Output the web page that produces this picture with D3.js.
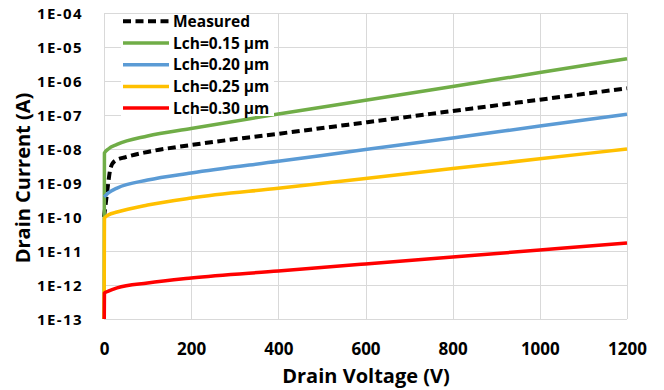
<!DOCTYPE html>
<html>
<head>
<meta charset="utf-8">
<script src="https://cdn.jsdelivr.net/npm/d3@7"></script>
<style>
  html, body { margin: 0; padding: 0; background: #fff; }
  svg { display: block; font-family: "Open Sans", "DejaVu Sans", sans-serif; font-weight: bold; }
</style>
</head>
<body>
<svg id="chart" width="664" height="390"></svg>
<script>
// Drain voltage sample points (V) for the simulated channel lengths
const voltage = [0, 1, 10, 30, 100, 200, 400, 600, 800, 1000, 1200];
// Simulated drain current (A) per channel length
const lch015 = [1e-14, 7.6e-9, 1.0e-8, 1.36e-8, 2.41e-8, 4.0e-8, 1.07e-7, 2.70e-7, 6.9e-7, 1.77e-6, 4.53e-6];
const lch020 = [3.9e-10, 4.0e-10, 5.1e-10, 7.1e-10, 1.22e-9, 1.97e-9, 4.35e-9, 9.6e-9, 2.12e-8, 4.72e-8, 1.05e-7];
const lch025 = [1e-14, 9.3e-11, 1.15e-10, 1.40e-10, 2.25e-10, 3.62e-10, 7.0e-10, 1.36e-9, 2.65e-9, 5.15e-9, 1.0e-8];
const lch030 = [1e-14, 5.8e-13, 6.6e-13, 8.2e-13, 1.15e-12, 1.61e-12, 2.58e-12, 4.15e-12, 6.67e-12, 1.07e-11, 1.72e-11];
// Measured drain current
const measuredVoltage = [0, 5, 10, 15, 25, 50, 100, 200, 400, 600, 800, 1000, 1200];
const measured = [1.0e-10, 3.2e-10, 1.07e-9, 2.75e-9, 4.5e-9, 5.8e-9, 8.2e-9, 1.31e-8, 2.8e-8, 6.05e-8, 1.31e-7, 2.82e-7, 6.1e-7];

const seriesNames = ["Measured", "Lch=0.15 \u00b5m", "Lch=0.20 \u00b5m", "Lch=0.25 \u00b5m", "Lch=0.30 \u00b5m"];
const seriesColors = ["#000000", "#70AD47", "#5B9BD5", "#FFC000", "#FF0000"];

const xTicks = [0, 200, 400, 600, 800, 1000, 1200];
const yTicks = [1e-13, 1e-12, 1e-11, 1e-10, 1e-9, 1e-8, 1e-7, 1e-6, 1e-5, 1e-4];
const yTickLabels = ["1E-13", "1E-12", "1E-11", "1E-10", "1E-09", "1E-08", "1E-07", "1E-06", "1E-05", "1E-04"];

const plot = { left: 104, right: 627, top: 13, bottom: 319 };

const svg = d3.select("#chart");

const x = d3.scaleLinear().domain([0, 1200]).range([plot.left, plot.right]);
const y = d3.scaleLog().domain([1e-13, 1e-4]).range([plot.bottom, plot.top]);

// Gridlines
const grid = svg.append("g").attr("stroke", "#D9D9D9").attr("stroke-width", 1);
grid.selectAll("line.h").data(yTicks).join("line")
  .attr("x1", plot.left).attr("x2", plot.right)
  .attr("y1", d => Math.round(y(d)) + 0.5).attr("y2", d => Math.round(y(d)) + 0.5);
grid.selectAll("line.v").data(xTicks).join("line")
  .attr("y1", plot.top).attr("y2", plot.bottom)
  .attr("x1", d => Math.round(x(d)) + 0.5).attr("x2", d => Math.round(x(d)) + 0.5);

// Axes (labels only, Excel style)
const xAxis = svg.append("g")
  .attr("transform", `translate(0,${plot.bottom + 24})`)
  .call(d3.axisBottom(x).tickValues(xTicks).tickSize(0).tickFormat(d3.format("d")));
xAxis.select(".domain").remove();
xAxis.selectAll("text").attr("font-size", 17).attr("font-family", "Open Sans").attr("font-weight", "bold").attr("fill", "#000").attr("dy", "0.71em").attr("y", 0);

const yAxis = svg.append("g")
  .attr("transform", `translate(${plot.left - 21},0)`)
  .call(d3.axisLeft(y).tickValues(yTicks).tickSize(0).tickFormat((d, i) => yTickLabels[i]));
yAxis.select(".domain").remove();
yAxis.selectAll("text").attr("font-size", 15).attr("font-family", "Open Sans").attr("font-weight", "bold")
  .attr("letter-spacing", 1.4).attr("fill", "#000").attr("x", 0).attr("dy", "0.35em");

// Axis titles
svg.append("text")
  .attr("x", 366).attr("y", 383)
  .attr("text-anchor", "middle").attr("font-size", 20).attr("fill", "#000")
  .text("Drain Voltage (V)");
svg.append("text")
  .attr("transform", "translate(30,178) rotate(-90)")
  .attr("text-anchor", "middle").attr("font-size", 20).attr("fill", "#000")
  .text("Drain Current (A)");

// Clip for the curves
svg.append("defs").append("clipPath").attr("id", "plotClip")
  .append("rect").attr("x", plot.left - 4).attr("y", plot.top)
  .attr("width", plot.right - plot.left + 8).attr("height", plot.bottom - plot.top);

const line = d3.line()
  .x(d => x(d[0]))
  .y(d => y(d[1]))
  .curve(d3.curveMonotoneX);

const series = [
  { v: measuredVoltage, i: measured, dash: "8,4.5", w: 4 },
  { v: voltage, i: lch015, dash: null, w: 3.5 },
  { v: voltage, i: lch020, dash: null, w: 3.5 },
  { v: voltage, i: lch025, dash: null, w: 3.5 },
  { v: voltage, i: lch030, dash: null, w: 3.5 }
];

const curves = svg.append("g").attr("clip-path", "url(#plotClip)");
series.forEach((s, k) => {
  curves.append("path")
    .datum(s.v.map((v, j) => [v, s.i[j]]))
    .attr("fill", "none")
    .attr("stroke", seriesColors[k])
    .attr("stroke-width", s.w)
    .attr("stroke-linejoin", "round")
    .attr("stroke-dasharray", s.dash)
    .attr("d", line);
});

// Legend
const legend = svg.append("g");
legend.append("rect").attr("x", 121).attr("y", 14).attr("width", 153).attr("height", 102).attr("fill", "#fff");
seriesNames.forEach((name, k) => {
  const cy = 21.3 + k * 21.7;
  legend.append("line")
    .attr("x1", 123).attr("x2", 169).attr("y1", cy).attr("y2", cy)
    .attr("stroke", seriesColors[k]).attr("stroke-width", series[k].w)
    .attr("stroke-dasharray", series[k].dash);
  legend.append("text")
    .attr("x", 173).attr("y", cy).attr("dy", "0.36em")
    .attr("font-size", 15.5).attr("fill", "#000")
    .text(name);
});
</script>
</body>
</html>
